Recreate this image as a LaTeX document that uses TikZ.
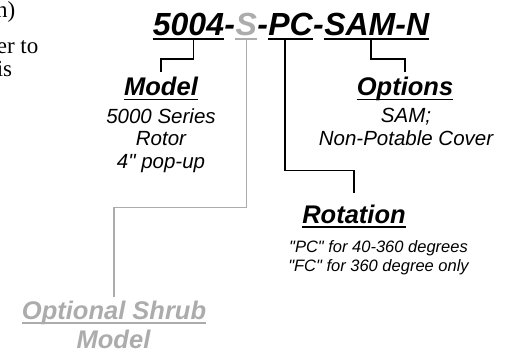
\documentclass[tikz,border=0pt]{standalone}
\usepackage{fontspec}
\setmainfont{Liberation Sans}
\newfontfamily\colfont{Liberation Serif}
\definecolor{shrubgray}{RGB}{172,172,172}

\begin{document}
\begin{tikzpicture}[
    x=1pt, y=-1pt, line join=miter,
    seg/.style={inner sep=0pt, anchor=base west, text depth=3.5pt,
      font=\fontsize{32}{36}\selectfont\bfseries\itshape},
    head/.style={inner sep=0pt, anchor=base, text depth=3.5pt,
      font=\fontsize{25.5}{30}\selectfont\bfseries\itshape},
    desc/.style={inner sep=0pt, anchor=north, align=center,
      font=\fontsize{20.5}{22.5}\selectfont\itshape},
    desc small/.style={desc, font=\fontsize{16.5}{19.3}\selectfont\itshape},
    col/.style={inner sep=0pt, anchor=base east, font=\colfont\fontsize{23}{27}\selectfont},
    uline/.style={line width=1.6pt},
    conn/.style={line width=1.4pt}]
  \useasboundingbox (0,0) rectangle (511,350);
  \clip (0,0) rectangle (511,350);
  % Columna vecina (cortada)
  \node[col] (colA) at (15.5,18) {n)};
  \node[col] (colB) at (38.5,54) {er to};
  \node[col] (colC) at (12.3,77) {is};
  % Numero de pieza
  \node[seg] (n5004) at (152.7,35.5) {5004};
  \node[seg] (dA) at (n5004.base east) {-};
  \node[seg, shrubgray] (nS) at (dA.base east) {S};
  \node[seg] (dB) at (nS.base east) {-};
  \node[seg] (nPC) at (dB.base east) {PC};
  \node[seg] (dC) at (nPC.base east) {-};
  \node[seg] (nSAM) at (dC.base east) {SAM-N};
  \foreach \n in {n5004, nPC, nSAM}
    \draw[uline] (\n.south west) -- (\n.south east);
  \draw[uline, shrubgray] (nS.south west) -- (nS.south east);
  % Modelo
  \node[head] (model) at (161,96) {Model};
  \draw[uline] (model.south west) -- (model.south east);
  \node[desc] (modeltxt) at (161,108) {5000 Series\\Rotor\\4\textquotedbl{} pop-up};
  % Opciones
  \node[head] (opts) at (405,96) {Options};
  \draw[uline] (opts.south west) -- (opts.south east);
  \node[desc] (optstxt) at (406,108) {SAM;\\Non-Potable Cover};
  % Rotacion
  \node[head] (rot) at (354,223) {Rotation};
  \draw[uline] (rot.south west) -- (rot.south east);
  \node[desc small] (rottxt) at (378.5,240)
    {\textquotedbl PC\textquotedbl{} for 40-360 degrees\\\textquotedbl FC\textquotedbl{} for 360 degree only};
  % Arbusto (opcional)
  \node[head, shrubgray] (shrub) at (114,319) {Optional Shrub};
  \draw[uline, shrubgray] (shrub.south west) -- (shrub.south east);
  \node[head, shrubgray] (shrubm) at (113.5,348) {Model};
  % Conectores
  \draw[conn] ([xshift=5pt]n5004.south) -- ++(0,20) -| ([yshift=5pt]model.north);
  \draw[conn] ([xshift=-5.5pt]nSAM.south) -- ++(0,20) -| ([yshift=5pt]opts.north);
  \draw[conn] ([xshift=-5.5pt]nPC.south) -- ++(0,131) -| ([yshift=11pt]rot.north);
  \draw[conn, shrubgray] ([xshift=0.5pt]nS.south) -- ++(0,168) -| ([yshift=3pt]shrub.north);
\end{tikzpicture}
\end{document}
